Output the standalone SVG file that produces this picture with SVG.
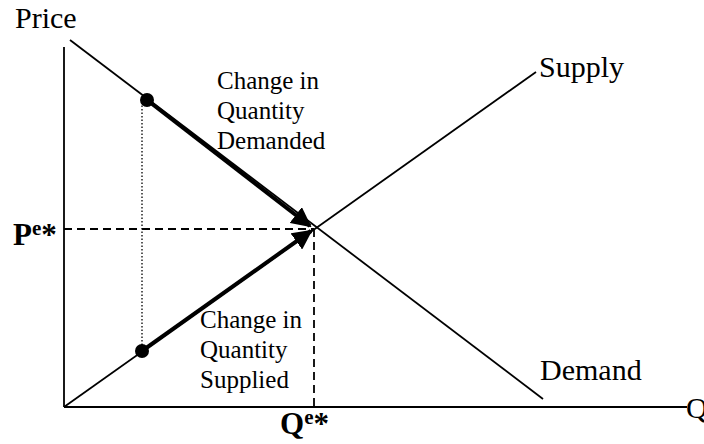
<svg xmlns="http://www.w3.org/2000/svg" width="704" height="444" viewBox="0 0 704 444">
<defs>
<style>
.t{font-family:"Liberation Serif","Times New Roman",serif;fill:#000}
.big{font-size:30px}
.sm{font-size:25px}
.b{font-size:31px;font-weight:bold}
.ln{stroke:#000;stroke-width:1.8;fill:none}
.dash{stroke:#000;stroke-width:1.8;stroke-dasharray:8,5;fill:none}
.dot{stroke:#000;stroke-width:1.3;stroke-dasharray:1.5,2;fill:none}
.arr{stroke:#000;stroke-width:4;fill:none;marker-end:url(#ah)}
</style>
<marker id="ah" viewBox="0 0 10 10" refX="9" refY="5" markerWidth="5" markerHeight="5" orient="auto" markerUnits="strokeWidth">
<path d="M0,0 L10,5 L0,10 z" fill="#000"/>
</marker>
</defs>
<g id="axes">
<line class="ln" x1="64" y1="47" x2="64" y2="407"/>
<line class="ln" x1="64" y1="407" x2="687" y2="407"/>
<text class="t big" x="15" y="28">Price</text>
<text class="t big" x="686" y="418">Q</text>
</g>
<g id="demand">
<line class="ln" x1="70" y1="40" x2="543" y2="399"/>
<text class="t big" x="540" y="380">Demand</text>
</g>
<g id="supply">
<line class="ln" x1="64" y1="407" x2="536" y2="72"/>
<text class="t big" x="539" y="77">Supply</text>
</g>
<g id="connectors">
<line class="dash" x1="64" y1="229" x2="314" y2="229"/>
<line class="dash" x1="314" y1="229" x2="314" y2="407"/>
<line class="dot" x1="142" y1="102" x2="142" y2="350"/>
<line class="arr" x1="147" y1="100" x2="310" y2="226"/>
<line class="arr" x1="142" y1="351" x2="311" y2="231"/>
</g>
<g id="points">
<circle cx="147" cy="100" r="7" fill="#000"/>
<circle cx="142" cy="351" r="7" fill="#000"/>
</g>
<g id="labels">
<text class="t sm" x="217" y="89">Change in</text>
<text class="t sm" x="217" y="119">Quantity</text>
<text class="t sm" x="217" y="149">Demanded</text>
<text class="t sm" x="200" y="328">Change in</text>
<text class="t sm" x="200" y="358">Quantity</text>
<text class="t sm" x="200" y="388">Supplied</text>
<text class="t b" x="13" y="245">P<tspan font-size="21" dy="-10">e</tspan><tspan dy="10">*</tspan></text>
<text class="t b" x="280" y="434">Q<tspan font-size="21" dy="-10">e</tspan><tspan dy="10">*</tspan></text>
</g>
</svg>
